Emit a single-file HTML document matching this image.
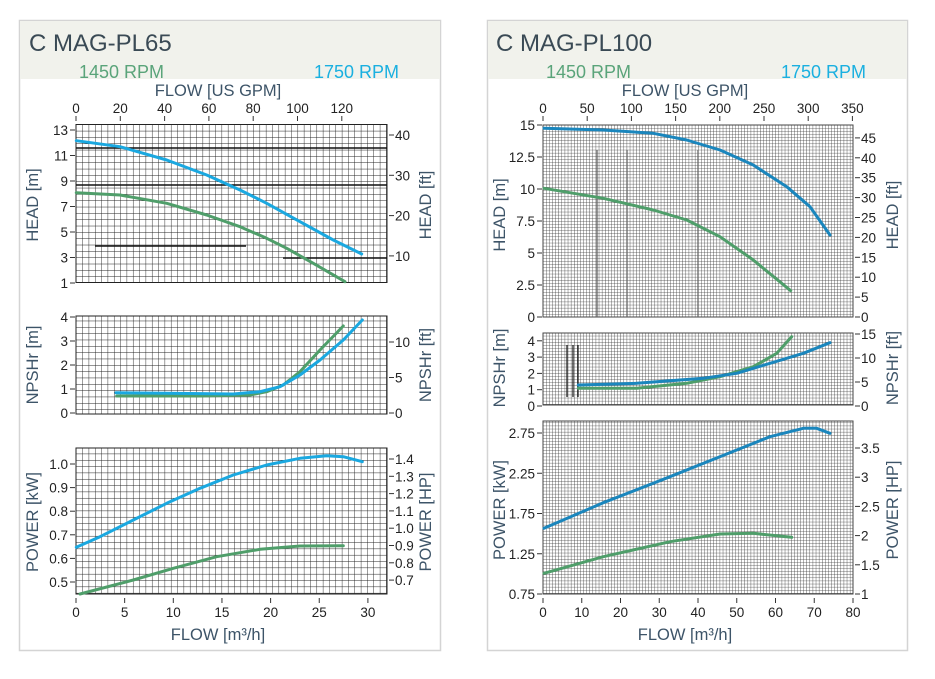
<!DOCTYPE html>
<html><head><meta charset="utf-8">
<style>
html,body{margin:0;padding:0;background:#fff;}
svg{display:block;font-family:"Liberation Sans",sans-serif;}
.t{font-size:13.5px;fill:#222;}
.ax{font-size:16.5px;fill:#3d5468;}
</style></head>
<body>
<svg id="s" width="935" height="679" viewBox="0 0 935 679" xmlns="http://www.w3.org/2000/svg">
<defs>
<pattern id="gl" x="76" y="124.5" width="6.33" height="6.33" patternUnits="userSpaceOnUse">
<path d="M0 0H6.33M0 0V6.33" stroke="#222" stroke-width="0.9" fill="none"/>
</pattern>
<pattern id="gr" x="543" y="125" width="3.1" height="3.1" patternUnits="userSpaceOnUse">
<path d="M0 0H3.1M0 0V3.1" stroke="#333" stroke-width="0.75" fill="none"/>
</pattern>
</defs>
<rect x="19.5" y="20.5" width="421" height="630" fill="#fff" stroke="#d4d4d4" stroke-width="1.5"/>
<rect x="20" y="21" width="420" height="58" fill="#f1f2ec"/>
<rect x="487.5" y="20.5" width="420" height="630" fill="#fff" stroke="#d4d4d4" stroke-width="1.5"/>
<rect x="488" y="21" width="419" height="58" fill="#f1f2ec"/>
<text x="29" y="51" style="font-size:24px;fill:#3a4a55">C MAG-PL65</text>
<text x="79" y="78" style="font-size:18px;fill:#5aa47a">1450 RPM</text>
<text x="314" y="78" style="font-size:18px;fill:#1ab0e0">1750 RPM</text>
<text x="496" y="51" style="font-size:24px;fill:#3a4a55">C MAG-PL100</text>
<text x="546" y="78" style="font-size:18px;fill:#5aa47a">1450 RPM</text>
<text x="781" y="78" style="font-size:18px;fill:#1ab0e0">1750 RPM</text>
<text x="218" y="96" text-anchor="middle" class="ax">FLOW [US  GPM]</text>
<text x="685" y="96" text-anchor="middle" class="ax">FLOW [US  GPM]</text>
<text x="218" y="640" text-anchor="middle" class="ax">FLOW [m³/h]</text>
<text x="685" y="640" text-anchor="middle" class="ax">FLOW [m³/h]</text>
<rect x="76" y="124.5" width="311" height="158" fill="url(#gl)" stroke="#222" stroke-width="1"/>
<rect x="76" y="316" width="311" height="98" fill="url(#gl)" stroke="#222" stroke-width="1"/>
<rect x="76" y="448" width="311" height="146" fill="url(#gl)" stroke="#222" stroke-width="1"/>
<rect x="543" y="125" width="310" height="192" fill="url(#gr)" stroke="#444" stroke-width="1"/>
<rect x="543" y="333" width="310" height="72" fill="url(#gr)" stroke="#444" stroke-width="1"/>
<rect x="543" y="421" width="310" height="173" fill="url(#gr)" stroke="#444" stroke-width="1"/>
<g stroke="#111" stroke-width="1.4">
<line x1="76" y1="148" x2="387" y2="148"/><line x1="76" y1="185" x2="387" y2="185"/>
<line x1="95" y1="246" x2="246" y2="246"/><line x1="283" y1="258" x2="387" y2="258"/>
</g>
<g stroke="#222" stroke-width="1.3">
<line x1="567" y1="345" x2="567" y2="397"/><line x1="573" y1="345" x2="573" y2="397"/><line x1="578" y1="345" x2="578" y2="397"/>
<line x1="597" y1="150" x2="597" y2="317" stroke="#666"/><line x1="627" y1="150" x2="627" y2="317" stroke="#666"/><line x1="698" y1="150" x2="698" y2="317" stroke="#666"/>
</g>
<g id="ticks"></g>
<g fill="none" stroke-width="3" stroke-linecap="round" stroke-linejoin="round">
<path stroke="#1aa8e0" d="M76.3,140.7 L120,146.7 L166.7,160 L206.7,175 L240,190 L266.7,203.3 L300,221.7 L333.3,240 L361.7,254"/>
<path stroke="#4f9e6a" d="M76.3,192.7 L120,195 L166.7,203.3 L206.7,215 L240,226.7 L266.7,238.3 L286.7,248.3 L313.3,263.3 L345,281.7"/>
<path stroke="#4f9e6a" d="M116.7,396 L200,396 L250,395 L266.7,391.7 L283.3,385 L300,371.7 L320,350 L343.3,326"/>
<path stroke="#1aa8e0" d="M116,392.7 L166.7,393.3 L233.3,394 L260,391.7 L280,386.7 L300,375 L320,360 L343.3,340 L362.3,320"/>
<path stroke="#1aa8e0" d="M76.3,547.3 L100,536.7 L133.3,520 L166.7,503.3 L200,488.3 L233.3,475 L266.7,465 L300,458.3 L326.7,455.7 L343.3,456.7 L362.3,461.7"/>
<path stroke="#4f9e6a" d="M80,594 L133.3,580 L173.3,568.3 L216.7,556.7 L260,549.3 L300,546 L343.3,545.7"/>
<path stroke="#1a86bd" d="M544,128.3 L603.3,130 L653.3,133.3 L686.7,140 L720,150 L753.3,165 L786.7,186.7 L810,206.7 L830,235"/>
<path stroke="#4f9e6a" d="M544,188.3 L603.3,198.3 L653.3,210 L686.7,220 L720,236.7 L753.3,260 L790.7,290.7"/>
<path stroke="#4f9e6a" d="M578.3,388.3 L636.7,388.3 L686.7,383.3 L720,376.7 L753.3,366.7 L776.7,353.3 L791.7,336.7"/>
<path stroke="#1a86bd" d="M578.3,385 L636.7,383.3 L703.3,378.3 L736.7,373.3 L770,363.3 L803.3,353.3 L830,342.7"/>
<path stroke="#1a86bd" d="M544,528.3 L603.3,502.7 L670,476.7 L736.7,450 L770,436.7 L803.3,428.3 L816.7,428.3 L830,433.3"/>
<path stroke="#4f9e6a" d="M544,573.3 L603.3,556.7 L670,541.7 L720,534 L753.3,533.3 L791.7,537.3"/>
</g>
</svg>
<script>
(function(){
var g=document.getElementById('ticks'),NS='http://www.w3.org/2000/svg';
function el(n,a,txt){var e=document.createElementNS(NS,n);for(var k in a)e.setAttribute(k,a[k]);if(txt!==undefined)e.textContent=txt;g.appendChild(e);}
function tl(x,vals,f){vals.forEach(function(v){var y=f(v);el('text',{x:x-8,y:y+5,'text-anchor':'end','class':'t'},v);el('line',{x1:x-6,y1:y,x2:x-1,y2:y,stroke:'#333'});});}
function tr(x,vals,f){vals.forEach(function(v){var y=f(v);el('line',{x1:x+2,y1:y,x2:x+7,y2:y,stroke:'#333'});el('text',{x:x+8,y:y+5,'class':'t'},v);});}
function tt(y,vals,f){vals.forEach(function(v){var x=f(v);el('text',{x:x,y:y,'text-anchor':'middle','class':'t'},v);el('line',{x1:x,y1:y+3,x2:x,y2:y+8,stroke:'#333'});});}
function tb(y,vals,f){vals.forEach(function(v){var x=f(v);el('line',{x1:x,y1:y-15,x2:x,y2:y-10,stroke:'#333'});el('text',{x:x,y:y+4,'text-anchor':'middle','class':'t'},v);});}
function vlab(x,y,s){el('text',{x:0,y:0,transform:'translate('+x+','+y+') rotate(-90)','text-anchor':'middle','class':'ax'},s);}
tt(113,[0,20,40,60,80,100,120],function(v){return 76+v*2.215;});
tl(76,[13,11,9,7,5,3,1],function(v){return 130+(13-v)/2*25.5;});
tr(387,[40,30,20,10],function(v){return 135+(40-v)*4.03;});
tl(76,[4,3,2,1,0],function(v){return 413-v*24;});
tr(387,[10,5,0],function(v){return 413-v*7.1;});
tl(76,['1.0','0.9','0.8','0.7','0.6','0.5'],function(v){return 464+(1-v)*236;});
tr(387,['1.4','1.3','1.2','1.1','1.0','0.9','0.8','0.7'],function(v){return 459+(1.4-v)*173;});
tb(613,[0,5,10,15,20,25,30],function(v){return 76+v*9.73;});
vlab(38,205,'HEAD [m]');vlab(431,205,'HEAD [ft]');
vlab(38,365,'NPSHr [m]');vlab(431,365,'NPSHr [ft]');
vlab(38,522,'POWER [kW]');vlab(431,522,'POWER [HP]');
tt(113,[0,50,100,150,200,250,300,350],function(v){return 543+v*0.884;});
tl(543,[15,12.5,10,7.5,5,2.5,0],function(v){return 317-v*12.8;});
tr(853,[45,40,35,30,25,20,15,10,5,0],function(v){return 317-v*3.98;});
tl(543,[4,3,2,1,0],function(v){return 406-v*16.3;});
tr(853,[15,10,5,0],function(v){return 406-v*4.8;});
tl(543,['2.75','2.25','1.75','1.25','0.75'],function(v){return 594-(v-0.75)*80.5;});
tr(853,['3.5','3','2.5','2','1.5','1'],function(v){return 594-(v-1)*58.4;});
tb(613,[0,10,20,30,40,50,60,70,80],function(v){return 543+v*3.875;});
vlab(505,215,'HEAD [m]');vlab(898,215,'HEAD [ft]');
vlab(505,368,'NPSHr [m]');vlab(898,368,'NPSHr [ft]');
vlab(505,510,'POWER [kW]');vlab(898,510,'POWER [HP]');
})();
</script>
</body></html>
